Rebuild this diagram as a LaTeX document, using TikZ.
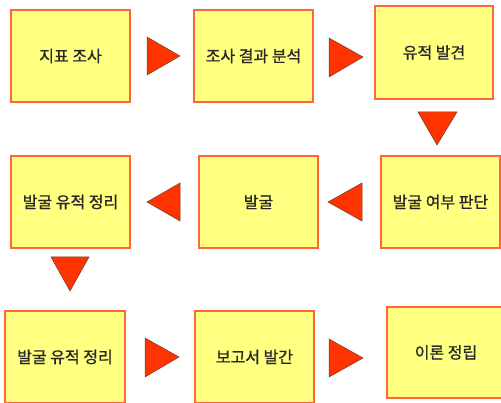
\documentclass[tikz,border=0pt]{standalone}
\usepackage{fontspec}
\newfontfamily\kofont[FakeBold=1]{Noto Sans CJK KR}
\definecolor{boxfill}{RGB}{255,255,128}
\definecolor{boxline}{RGB}{255,100,60}
\definecolor{arrfill}{RGB}{255,51,0}
\definecolor{arrline}{RGB}{110,60,50}
\definecolor{txt}{RGB}{40,40,40}
\begin{document}
\begin{tikzpicture}[x=1pt,y=-1pt,
  box/.style={draw=boxline, line width=1.3pt, fill=boxfill, minimum width=119pt, minimum height=92pt,
    inner sep=0pt, font=\kofont\fontsize{16}{18}\selectfont, text=txt},
  tri/.style={fill=arrfill, draw=arrline, line width=0.5pt, line join=miter}]
\clip (0,0) rectangle (501,403);
\useasboundingbox (0,0) rectangle (501,403);
\node[box] (b1) at (70.5,56) {지표 조사};
\node[box] (b2) at (253.5,56) {조사 결과 분석};
\node[box, minimum width=118pt, minimum height=93pt] (b3) at (434,52.5) {유적 발견};
\node[box] (b4) at (70.5,202) {발굴 유적 정리};
\node[box] (b5) at (258.5,202) {발굴};
\node[box] (b6) at (440.5,202) {발굴 여부 판단};
\node[box, minimum width=120pt] (b7) at (65,357) {발굴 유적 정리};
\node[box] (b8) at (254.5,357) {보고서 발간};
\node[box, minimum width=118pt, minimum height=91pt] (b9) at (446,352.5) {이론 정립};
\draw[tri] (147,37) -- (147,75) -- (180,56) -- cycle;
\draw[tri] (329,38) -- (329,77) -- (363,57) -- cycle;
\draw[tri] (418,112) -- (457,112) -- (437,145) -- cycle;
\draw[tri] (180,183) -- (180,221) -- (147,202) -- cycle;
\draw[tri] (362,183) -- (362,221) -- (328,202) -- cycle;
\draw[tri] (51,257) -- (89,257) -- (70,291) -- cycle;
\draw[tri] (145,338) -- (145,377) -- (179,357) -- cycle;
\draw[tri] (329,339) -- (329,377) -- (363,358) -- cycle;
\end{tikzpicture}
\end{document}
